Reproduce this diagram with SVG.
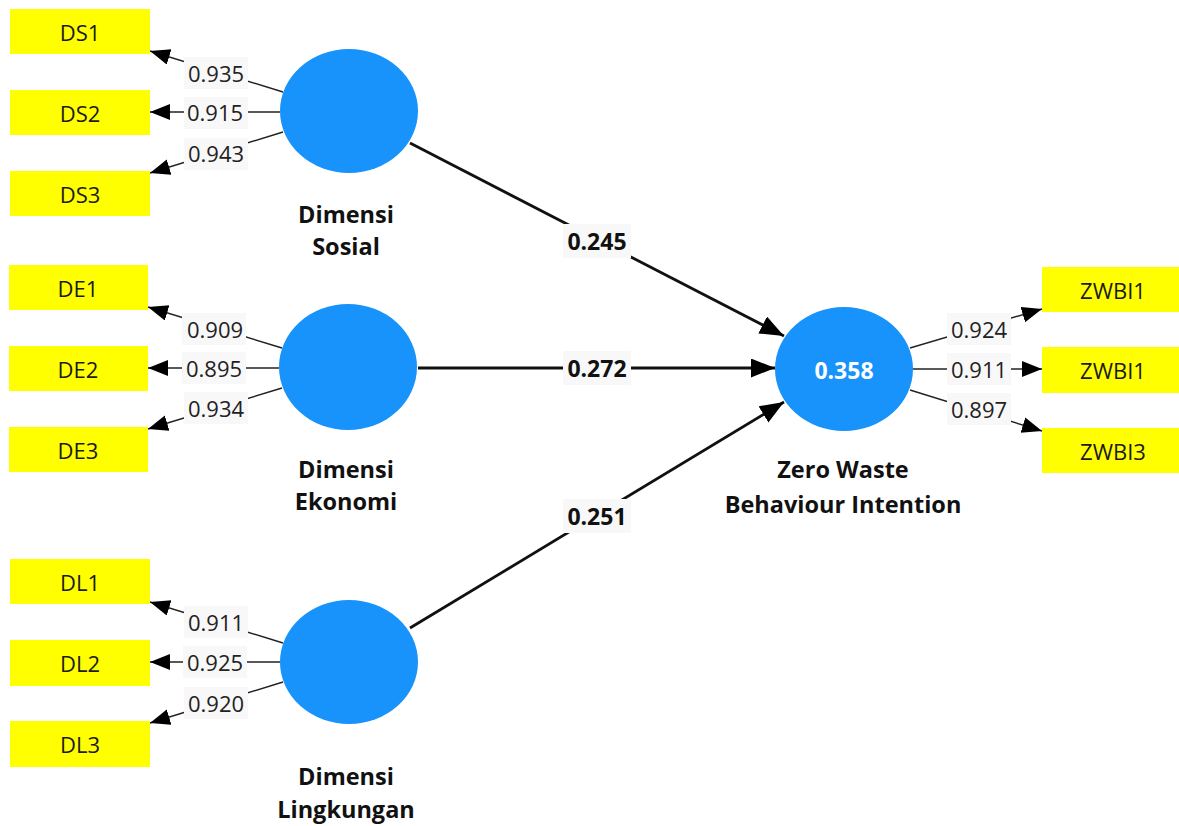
<svg xmlns="http://www.w3.org/2000/svg" width="1179" height="826" viewBox="0 0 1179 826">
<style>
.ind rect{fill:#ffff00}
.ind text{font-family:"Open Sans","Noto Sans",sans-serif;font-size:22px;fill:#1a1a1a;text-anchor:middle;dominant-baseline:central}
.lat ellipse{fill:#1793fb}
.lat text{font-family:"Open Sans","Noto Sans",sans-serif;font-size:23.5px;font-weight:bold;fill:#111;text-anchor:middle}
.lat text.r2{fill:#fff;font-size:23px;dominant-baseline:central}
.ld{stroke:#222;stroke-width:1.4;fill:none;marker-end:url(#ah)}
.sp{stroke:#111;stroke-width:2.8;fill:none;marker-end:url(#ahb)}
.lb rect{fill:#f8f8f8}
.lb text{font-family:"Open Sans","Noto Sans",sans-serif;font-size:22px;fill:#222;text-anchor:middle;dominant-baseline:central}
.lb text.b{font-weight:bold;font-size:23px;fill:#111}
</style>
<defs>
<marker id="ah" markerUnits="userSpaceOnUse" markerWidth="22" markerHeight="18" refX="20" refY="8" orient="auto"><path d="M0,0 L20,8 L0,16 Z" fill="#000"/></marker>
<marker id="ahb" markerUnits="userSpaceOnUse" markerWidth="26" markerHeight="22" refX="24" refY="9.5" orient="auto"><path d="M0,0 L24,9.5 L0,19 Z" fill="#000"/></marker>
</defs>
<rect width="1179" height="826" fill="#fff"/>
<g id="connectors">
<line class="ld" x1="283" y1="92" x2="150" y2="51"/>
<line class="ld" x1="280" y1="112" x2="150" y2="112"/>
<line class="ld" x1="283" y1="132" x2="150" y2="173"/>
<line class="ld" x1="282" y1="348" x2="148" y2="307"/>
<line class="ld" x1="279" y1="368" x2="148" y2="368"/>
<line class="ld" x1="282" y1="388" x2="148" y2="429"/>
<line class="ld" x1="283" y1="643" x2="150" y2="602"/>
<line class="ld" x1="280" y1="662" x2="150" y2="662"/>
<line class="ld" x1="283" y1="682" x2="150" y2="723"/>
<line class="ld" x1="910" y1="348" x2="1042" y2="309"/>
<line class="ld" x1="913" y1="369" x2="1042" y2="369"/>
<line class="ld" x1="910" y1="390" x2="1042" y2="431"/>
<line class="sp" x1="410" y1="143" x2="784" y2="336"/>
<line class="sp" x1="418" y1="368" x2="775" y2="368"/>
<line class="sp" x1="410" y1="628" x2="784" y2="402"/>
<g class="lb">
<rect x="184" y="57" width="64" height="32"/><text x="216" y="73">0.935</text>
<rect x="184" y="97" width="64" height="32"/><text x="215" y="112">0.915</text>
<rect x="184" y="138" width="64" height="32"/><text x="216" y="153">0.943</text>
<rect x="182" y="313" width="64" height="32"/><text x="215" y="329">0.909</text>
<rect x="182" y="352" width="64" height="32"/><text x="214" y="368">0.895</text>
<rect x="184" y="392" width="64" height="32"/><text x="216" y="408">0.934</text>
<rect x="184" y="606" width="64" height="32"/><text x="216" y="622">0.911</text>
<rect x="183" y="646" width="64" height="32"/><text x="215" y="662">0.925</text>
<rect x="184" y="687" width="64" height="32"/><text x="216" y="703">0.920</text>
<rect x="947" y="313" width="64" height="32"/><text x="979" y="329">0.924</text>
<rect x="947" y="353" width="64" height="32"/><text x="979" y="369">0.911</text>
<rect x="947" y="393" width="64" height="32"/><text x="979" y="409">0.897</text>
<rect x="563" y="224" width="68" height="34"/><text class="b" x="597" y="241">0.245</text>
<rect x="563" y="351" width="68" height="34"/><text class="b" x="597" y="368">0.272</text>
<rect x="563" y="499" width="68" height="34"/><text class="b" x="597" y="516">0.251</text>
</g>
</g>
<g id="DS1" class="ind"><rect x="10" y="9" width="140" height="45"/><text x="80" y="32">DS1</text></g>
<g id="DS2" class="ind"><rect x="10" y="90" width="140" height="45"/><text x="80" y="113">DS2</text></g>
<g id="DS3" class="ind"><rect x="10" y="171" width="140" height="45"/><text x="80" y="194">DS3</text></g>
<g id="DE1" class="ind"><rect x="9" y="265" width="139" height="45"/><text x="78" y="288">DE1</text></g>
<g id="DE2" class="ind"><rect x="9" y="346" width="139" height="45"/><text x="78" y="369">DE2</text></g>
<g id="DE3" class="ind"><rect x="9" y="427" width="139" height="45"/><text x="78" y="450">DE3</text></g>
<g id="DL1" class="ind"><rect x="10" y="559" width="140" height="45"/><text x="80" y="582">DL1</text></g>
<g id="DL2" class="ind"><rect x="10" y="640" width="140" height="46"/><text x="80" y="663">DL2</text></g>
<g id="DL3" class="ind"><rect x="10" y="721" width="140" height="46"/><text x="80" y="744">DL3</text></g>
<g id="ZWBI1a" class="ind"><rect x="1042" y="267" width="137" height="45"/><text x="1113" y="290">ZWBI1</text></g>
<g id="ZWBI1b" class="ind"><rect x="1042" y="347" width="137" height="46"/><text x="1113" y="370">ZWBI1</text></g>
<g id="ZWBI3" class="ind"><rect x="1042" y="428" width="137" height="45"/><text x="1113" y="451">ZWBI3</text></g>
<g id="DimensiSosial" class="lat"><ellipse cx="349" cy="111" rx="69" ry="62"/><text x="346" y="223">Dimensi</text><text x="346" y="255">Sosial</text></g>
<g id="DimensiEkonomi" class="lat"><ellipse cx="348" cy="367" rx="69" ry="63"/><text x="346" y="478">Dimensi</text><text x="346" y="510">Ekonomi</text></g>
<g id="DimensiLingkungan" class="lat"><ellipse cx="349" cy="662" rx="69" ry="62"/><text x="346" y="785">Dimensi</text><text x="346" y="818">Lingkungan</text></g>
<g id="ZeroWaste" class="lat"><ellipse cx="844" cy="369" rx="69" ry="62"/><text class="r2" x="844" y="370">0.358</text><text x="843" y="478">Zero Waste</text><text x="843" y="513">Behaviour Intention</text></g>
</svg>
